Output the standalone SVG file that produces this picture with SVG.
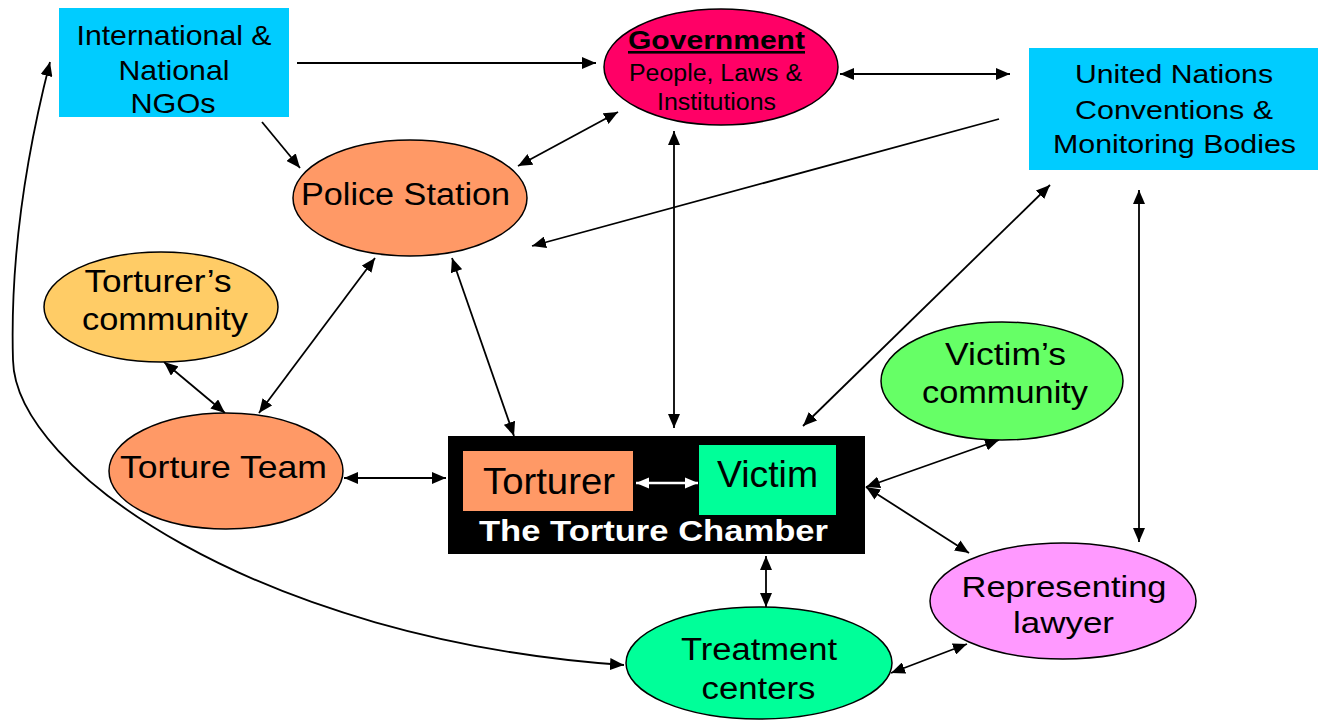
<svg xmlns="http://www.w3.org/2000/svg" width="1321" height="721" viewBox="0 0 1321 721">
<style>
.n{stroke:#000;stroke-width:1.5}
.t{font-family:"Liberation Sans",Arial,sans-serif;fill:#000;text-anchor:middle}
.c{fill:none;stroke:#000;stroke-width:1.8}
.w{fill:none;stroke:#fff;stroke-width:2.5}
</style>
<defs>
<marker id="a" viewBox="0 0 14 12" refX="14" refY="6" markerWidth="14" markerHeight="12" markerUnits="userSpaceOnUse" orient="auto-start-reverse"><path d="M0,0 L14,6 L0,12 z" fill="#000"/></marker>
<marker id="aw" viewBox="0 0 14 12" refX="14" refY="6" markerWidth="13" markerHeight="12" markerUnits="userSpaceOnUse" orient="auto-start-reverse"><path d="M0,0 L14,6 L0,12 z" fill="#fff"/></marker>
</defs>
<rect width="1321" height="721" fill="#fff"/>
<g id="connectors">
<line class="c" x1="297" y1="63" x2="596" y2="63" marker-end="url(#a)"/>
<line class="c" x1="262" y1="122" x2="300" y2="168" marker-end="url(#a)"/>
<line class="c" x1="840" y1="74" x2="1010" y2="74" marker-start="url(#a)" marker-end="url(#a)"/>
<line class="c" x1="999" y1="119" x2="532" y2="246" marker-end="url(#a)"/>
<line class="c" x1="518" y1="166" x2="618" y2="112" marker-start="url(#a)" marker-end="url(#a)"/>
<line class="c" x1="674" y1="131" x2="674" y2="428" marker-start="url(#a)" marker-end="url(#a)"/>
<line class="c" x1="1050" y1="185" x2="803" y2="426" marker-start="url(#a)" marker-end="url(#a)"/>
<line class="c" x1="1139" y1="190" x2="1139" y2="542" marker-start="url(#a)" marker-end="url(#a)"/>
<line class="c" x1="375" y1="258" x2="259" y2="413" marker-start="url(#a)" marker-end="url(#a)"/>
<line class="c" x1="164" y1="362" x2="225" y2="413" marker-start="url(#a)" marker-end="url(#a)"/>
<line class="c" x1="452" y1="258" x2="514" y2="436" marker-start="url(#a)" marker-end="url(#a)"/>
<line class="c" x1="344" y1="478" x2="446" y2="478" marker-start="url(#a)" marker-end="url(#a)"/>
<line class="c" x1="866" y1="487" x2="999" y2="440" marker-start="url(#a)" marker-end="url(#a)"/>
<line class="c" x1="866" y1="487" x2="969" y2="553" marker-start="url(#a)" marker-end="url(#a)"/>
<line class="c" x1="766" y1="556" x2="766" y2="607" marker-start="url(#a)" marker-end="url(#a)"/>
<line class="c" x1="891" y1="673" x2="967" y2="644" marker-start="url(#a)" marker-end="url(#a)"/>
<path class="c" stroke-width="1.5" d="M50,62 C25,160 10,260 13,360 C15,470 260,640 624,665" marker-start="url(#a)" marker-end="url(#a)"/>
</g>
<g id="ngos">
<rect x="59" y="8" width="230" height="109" fill="#00CCFF"/>
<text class="t" font-size="28" x="174" y="45" textLength="195" lengthAdjust="spacingAndGlyphs">International &amp;</text>
<text class="t" font-size="28" x="174" y="80" textLength="111" lengthAdjust="spacingAndGlyphs">National</text>
<text class="t" font-size="28" x="173" y="113" textLength="85" lengthAdjust="spacingAndGlyphs">NGOs</text>
</g>
<g id="government">
<ellipse class="n" cx="721" cy="67" rx="117" ry="58" fill="#FF0066"/>
<text class="t" font-size="26" font-weight="bold" text-decoration="underline" x="716.5" y="49" textLength="177" lengthAdjust="spacingAndGlyphs">Government</text>
<text class="t" font-size="23" x="715.5" y="81" textLength="173" lengthAdjust="spacingAndGlyphs">People, Laws &amp;</text>
<text class="t" font-size="23" x="716.5" y="110" textLength="119" lengthAdjust="spacingAndGlyphs">Institutions</text>
</g>
<g id="un">
<rect x="1029" y="48" width="289" height="122" fill="#00CCFF"/>
<text class="t" font-size="26" x="1174" y="83" textLength="198" lengthAdjust="spacingAndGlyphs">United Nations</text>
<text class="t" font-size="26" x="1174" y="119" textLength="198" lengthAdjust="spacingAndGlyphs">Conventions &amp;</text>
<text class="t" font-size="26" x="1174.5" y="153" textLength="243" lengthAdjust="spacingAndGlyphs">Monitoring Bodies</text>
</g>
<g id="police">
<ellipse class="n" cx="410" cy="198" rx="117" ry="58" fill="#FF9966"/>
<text class="t" font-size="31" x="405.5" y="205" textLength="209" lengthAdjust="spacingAndGlyphs">Police Station</text>
</g>
<g id="torturers-community">
<ellipse class="n" cx="161" cy="307" rx="117" ry="55" fill="#FFCC66"/>
<text class="t" font-size="32" x="158" y="292" textLength="147" lengthAdjust="spacingAndGlyphs">Torturer’s</text>
<text class="t" font-size="32" x="165" y="330" textLength="166" lengthAdjust="spacingAndGlyphs">community</text>
</g>
<g id="torture-team">
<ellipse class="n" cx="226" cy="471" rx="117" ry="58" fill="#FF9966"/>
<text class="t" font-size="32" x="223.5" y="478" textLength="207" lengthAdjust="spacingAndGlyphs">Torture Team</text>
</g>
<g id="chamber">
<rect x="448" y="436" width="417" height="118" fill="#000"/>
<rect x="463" y="451" width="170" height="60" fill="#FF9966"/>
<text class="t" font-size="37" x="549" y="494" textLength="132" lengthAdjust="spacingAndGlyphs">Torturer</text>
<rect x="699" y="445" width="137" height="70" fill="#00FF99"/>
<text class="t" font-size="37" x="767.5" y="487" textLength="101" lengthAdjust="spacingAndGlyphs">Victim</text>
<line class="w" x1="636" y1="483" x2="698" y2="483" marker-start="url(#aw)" marker-end="url(#aw)"/>
<text class="t" font-size="29" font-weight="bold" style="fill:#fff" x="653.5" y="541" textLength="349" lengthAdjust="spacingAndGlyphs">The Torture Chamber</text>
</g>
<g id="victims-community">
<ellipse class="n" cx="1002" cy="381" rx="121" ry="59" fill="#66FF66"/>
<text class="t" font-size="32" x="1005.5" y="365" textLength="121" lengthAdjust="spacingAndGlyphs">Victim’s</text>
<text class="t" font-size="32" x="1005" y="403" textLength="166" lengthAdjust="spacingAndGlyphs">community</text>
</g>
<g id="lawyer">
<ellipse class="n" cx="1063" cy="601" rx="133" ry="58" fill="#FF99FF"/>
<text class="t" font-size="30" x="1064" y="597" textLength="205" lengthAdjust="spacingAndGlyphs">Representing</text>
<text class="t" font-size="30" x="1063.5" y="633" textLength="101" lengthAdjust="spacingAndGlyphs">lawyer</text>
</g>
<g id="treatment">
<ellipse class="n" cx="759" cy="663" rx="133" ry="56" fill="#00FF99"/>
<text class="t" font-size="31" x="759" y="660" textLength="156" lengthAdjust="spacingAndGlyphs">Treatment</text>
<text class="t" font-size="31" x="758.5" y="699" textLength="114" lengthAdjust="spacingAndGlyphs">centers</text>
</g>
</svg>
